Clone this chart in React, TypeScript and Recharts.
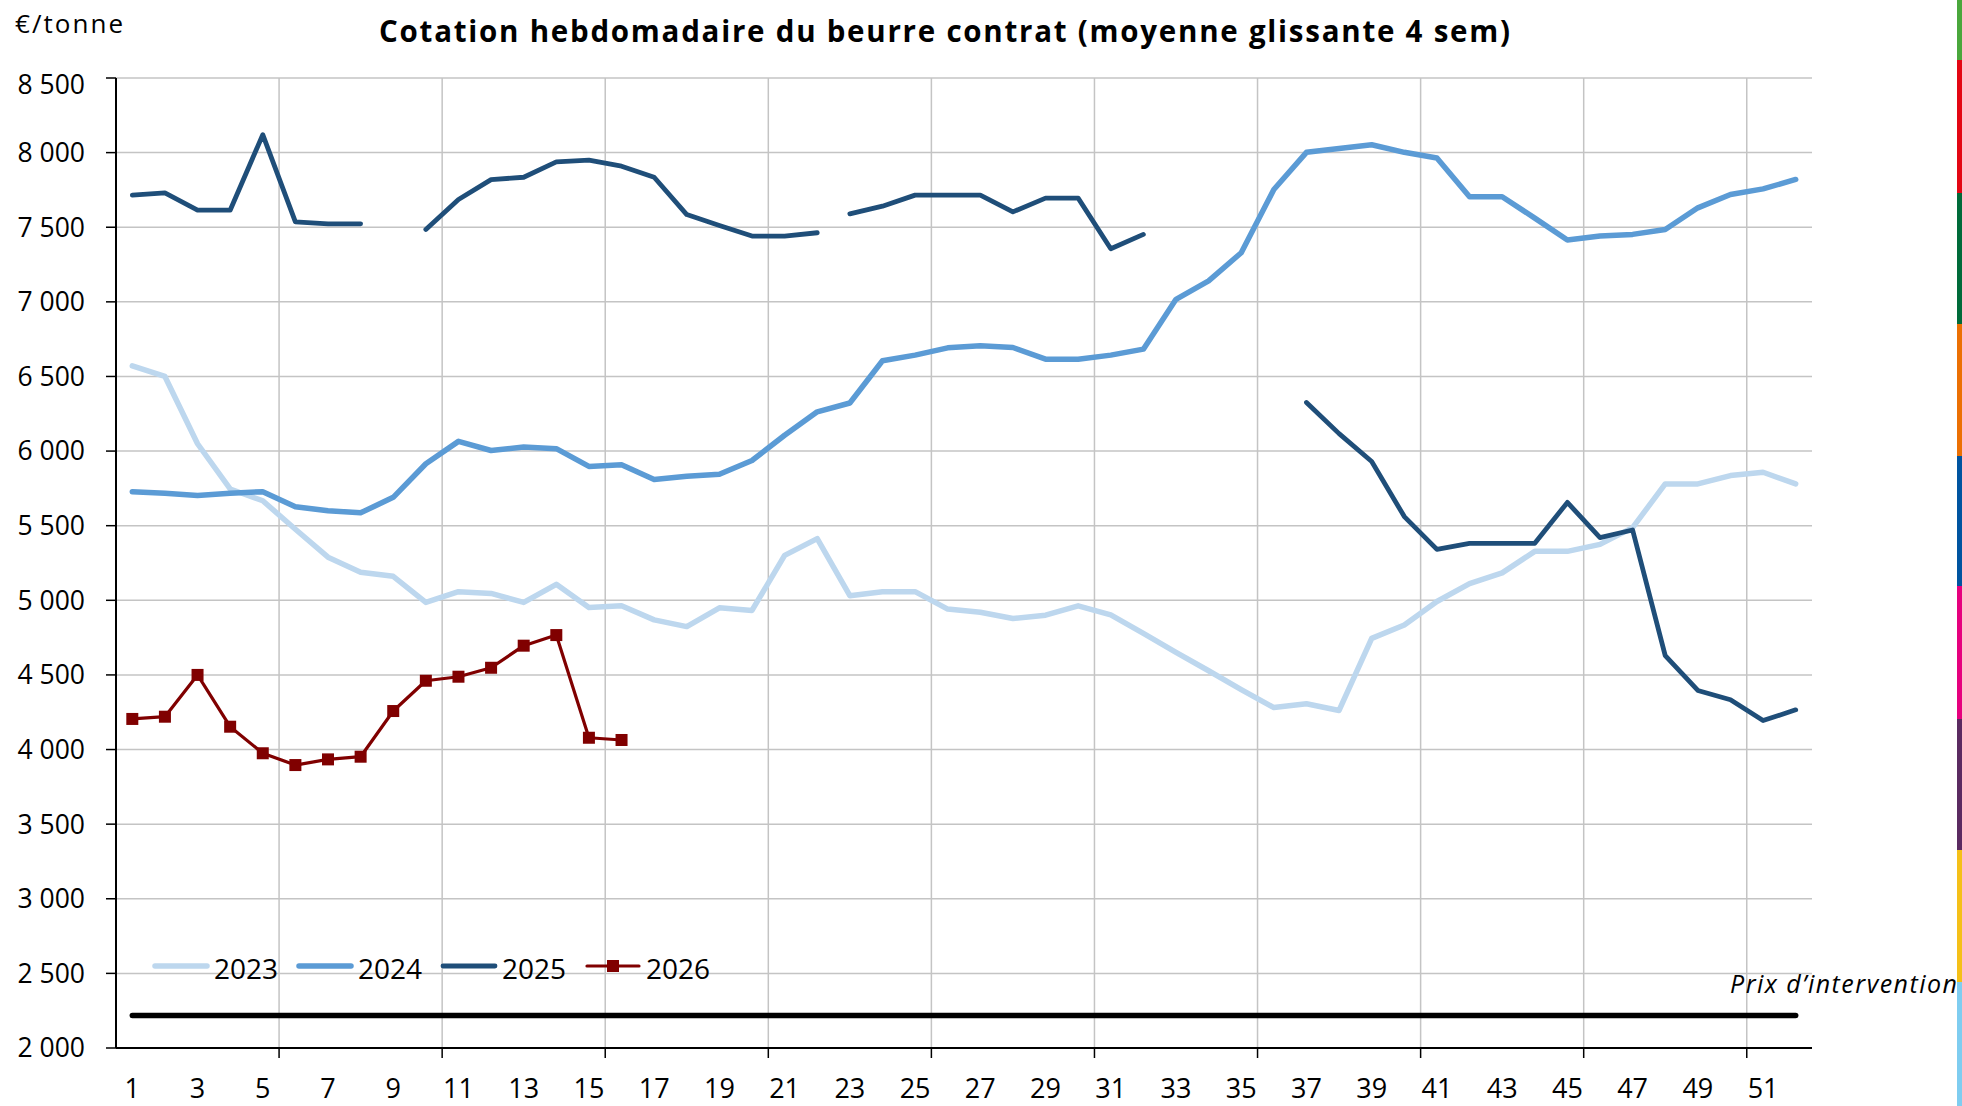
import React from 'react';
import { LineChart, Line, XAxis, YAxis, CartesianGrid } from 'recharts';

const weeks = [1, 2, 3, 4, 5, 6, 7, 8, 9, 10, 11, 12, 13, 14, 15, 16, 17, 18, 19, 20, 21, 22, 23, 24, 25, 26,
  27, 28, 29, 30, 31, 32, 33, 34, 35, 36, 37, 38, 39, 40, 41, 42, 43, 44, 45, 46, 47, 48, 49, 50, 51, 52];
const labelWeeks = [1, 3, 5, 7, 9, 11, 13, 15, 17, 19, 21, 23, 25, 27, 29, 31, 33, 35, 37, 39, 41, 43, 45, 47, 49, 51];
const gridWeeks = [5.5, 10.5, 15.5, 20.5, 25.5, 30.5, 35.5, 40.5, 45.5, 50.5];
const yTicks = [2000, 2500, 3000, 3500, 4000, 4500, 5000, 5500, 6000, 6500, 7000, 7500, 8000, 8500];

const values2023 = [6571, 6500, 6049, 5746, 5667, 5476, 5289, 5188, 5161, 4986, 5058, 5046, 4986, 5107, 4952, 4963,
  4869, 4824, 4950, 4932, 5301, 5413, 5031, 5058, 5058, 4941, 4920, 4878, 4900, 4963, 4902, 4779, 4651, 4528, 4402,
  4281, 4307, 4262, 4745, 4835, 4992, 5112, 5184, 5328, 5328, 5375, 5487, 5780, 5780, 5836, 5858, 5780];
const values2024 = [5728, 5717, 5703, 5717, 5728, 5627, 5600, 5586, 5690, 5915, 6065, 6004, 6027, 6016, 5897, 5908,
  5809, 5831, 5845, 5937, 6106, 6263, 6322, 6605, 6643, 6692, 6705, 6694, 6616, 6616, 6643, 6683, 7017, 7140, 7329,
  7753, 8002, 8027, 8053, 8002, 7964, 7704, 7704, 7561, 7414, 7441, 7452, 7485, 7630, 7719, 7757, 7820];
const values2025 = [7715, 7730, 7614, 7614, 8120, 7536, 7523, 7523, null, 7485, 7686, 7819, 7835, 7938, 7949, 7909,
  7835, 7585, 7512, 7441, 7441, 7463, 7590, 7641, 7715, 7715, 7715, 7603, 7695, 7695, 7356, 7452, null, null, null,
  null, 6326, 6117, 5930, 5561, 5341, 5382, 5382, 5382, 5656, 5420, 5471, 4630, 4396, 4334, 4194, 4266];
const values2026 = [4205, 4220, 4500, 4153, 3975, 3896, 3934, 3952, 4258, 4461, 4488, 4548, 4696, 4767, 4079, 4064];
// the 2025 line is interrupted between these two weeks
const breaks2025 = [22.5];
const interventionPrice = 2217.5;

const series = [
  { key: 'y2023', name: '2023', color: '#BDD7EE', width: 5.5 },
  { key: 'y2024', name: '2024', color: '#5B9BD5', width: 5.5 },
  { key: 'y2025', name: '2025', color: '#1F4E79', width: 4.8 },
  { key: 'y2026', name: '2026', color: '#800000', width: 3.2 },
];

const rows: any[] = [];
weeks.forEach((w, i) => {
  rows.push({
    week: w,
    y2023: values2023[i] ?? null,
    y2024: values2024[i] ?? null,
    y2025: values2025[i] ?? null,
    y2026: values2026[i] ?? null,
    prix: interventionPrice,
  });
  if (breaks2025.includes(w + 0.5)) rows.push({ week: w + 0.5, y2025: null });
});

const FONT = "'Open Sans', sans-serif";

const fmt = (v: number) => `${Math.floor(v / 1000)} ${String(v % 1000).padStart(3, '0')}`;

const XTick = (props: any) => {
  const { x, y, payload } = props;
  const v = payload.value;
  if (gridWeeks.includes(v)) {
    return <line x1={x} x2={x} y1={y} y2={y + 10} stroke="#000" strokeWidth={1.5} />;
  }
  return (
    <text x={x} y={y + 50} textAnchor="middle" fontFamily={FONT} fontSize={27} fill="#000">
      {v}
    </text>
  );
};

const YTick = (props: any) => {
  const { x, y, payload } = props;
  const v = payload.value;
  return (
    <text x={x} y={y + (v === 8500 ? 7 : 0)} dy="0.355em" textAnchor="end" fontFamily={FONT} fontSize={26.5} fill="#000">
      {fmt(v)}
    </text>
  );
};

const SquareDot = (props: any) => {
  const { cx, cy, value, index } = props;
  if (cx == null || cy == null || value == null) return <g key={`d${index}`} />;
  return <rect key={`d${index}`} x={cx - 6} y={cy - 6} width={12} height={12} fill="#800000" />;
};

const barColors = [
  { c: '#4AA73C', top: 0, h: 60 },
  { c: '#E30613', top: 60, h: 133 },
  { c: '#006B3A', top: 193, h: 131 },
  { c: '#EC7003', top: 324, h: 132 },
  { c: '#0054A0', top: 456, h: 130 },
  { c: '#E6007E', top: 586, h: 133 },
  { c: '#5B2A61', top: 719, h: 131 },
  { c: '#F5C018', top: 850, h: 132 },
  { c: '#7FCDF0', top: 982, h: 124 },
];

export default function App() {
  return (
    <div style={{ position: 'absolute', left: 0, top: 0, width: 1962, height: 1106, background: '#fff', overflow: 'hidden' }}>
      <LineChart width={1962} height={1106} data={rows} margin={{ top: 78, right: 150, bottom: 0, left: 0 }}>
        <CartesianGrid stroke="#C4C4C4" strokeWidth={1.5} verticalValues={gridWeeks} />
        <XAxis
          dataKey="week"
          type="number"
          domain={[0.5, 52.5]}
          ticks={[...labelWeeks, ...gridWeeks].sort((a, b) => a - b)}
          interval={0}
          height={58}
          axisLine={{ stroke: '#000', strokeWidth: 2 }}
          tickLine={false}
          tickSize={0}
          tickMargin={0}
          tick={<XTick />}
        />
        <YAxis
          type="number"
          domain={[2000, 8500]}
          ticks={yTicks}
          interval={0}
          width={116}
          axisLine={{ stroke: '#000', strokeWidth: 2 }}
          tickLine={{ stroke: '#000', strokeWidth: 1.5 }}
          tickSize={10}
          tickMargin={21}
          tick={<YTick />}
        />
        {series.map((s) => (
          <Line
            key={s.key}
            dataKey={s.key}
            name={s.name}
            stroke={s.color}
            strokeWidth={s.width}
            strokeLinecap="round"
            strokeLinejoin="round"
            dot={s.key === 'y2026' ? SquareDot : false}
            activeDot={false}
            connectNulls={s.key !== 'y2025'}
            isAnimationActive={false}
          />
        ))}
        <Line
          dataKey="prix"
          name="Prix d'intervention"
          stroke="#000"
          strokeWidth={5.5}
          strokeLinecap="round"
          dot={false}
          activeDot={false}
          connectNulls
          isAnimationActive={false}
        />
      </LineChart>
      <svg width={1962} height={1106} style={{ position: 'absolute', left: 0, top: 0, pointerEvents: 'none' }}>
        <text x={944.5} y={42} textAnchor="middle" fontFamily={FONT} fontWeight={700} fontSize={29.5} fill="#000"
          textLength={1131} lengthAdjust="spacing">
          Cotation hebdomadaire du beurre contrat (moyenne glissante 4 sem)
        </text>
        <text x={15} y={33} fontFamily={FONT} fontSize={26} fill="#000" textLength={108} lengthAdjust="spacing">
          €/tonne
        </text>
        <text x={1730} y={993} fontFamily={FONT} fontStyle="italic" fontSize={25} fill="#000" textLength={227}
          lengthAdjust="spacing">
          Prix d’intervention
        </text>
        {series.map((s, i) => {
          const x0 = 155 + i * 144;
          return (
            <g key={s.key}>
              <line x1={x0} x2={x0 + 52} y1={966} y2={966} stroke={s.color} strokeWidth={s.width} strokeLinecap="round" />
              {s.key === 'y2026' && <rect x={x0 + 26 - 6} y={966 - 6} width={12} height={12} fill={s.color} />}
              <text x={x0 + 59} y={979} fontFamily={FONT} fontSize={28} fill="#000">{s.name}</text>
            </g>
          );
        })}
      </svg>
      {barColors.map((b, i) => (
        <div key={i} style={{ position: 'absolute', left: 1957, top: b.top, width: 5, height: b.h, background: b.c }} />
      ))}
    </div>
  );
}
